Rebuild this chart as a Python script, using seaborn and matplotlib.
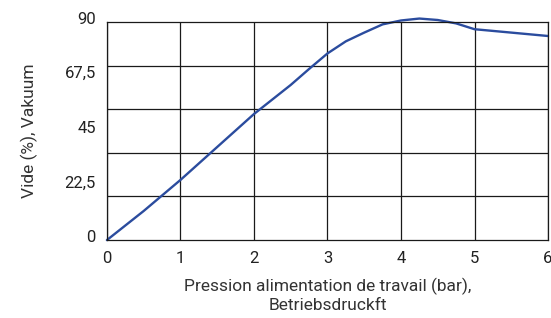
import numpy as np
import matplotlib
matplotlib.use("Agg")
import matplotlib.pyplot as plt
import matplotlib.transforms as mtransforms
import seaborn as sns
import pandas as pd

# valeurs
pression = [0, 0.5, 1, 1.5, 2, 2.5, 2.75, 3, 3.25, 3.5, 3.75, 4, 4.25, 4.5, 4.75, 5, 5.5, 6]
vide = [0, 12, 24.8, 38.4, 52, 64, 70.6, 77, 82, 85.6, 89.0, 90.6, 91.4, 90.8, 89.4, 87, 85.6, 84.2]

x_ticks = [0, 1, 2, 3, 4, 5, 6]
y_ticks = [0, 22.5, 45, 67.5, 90]
y_labels = ["0", "22,5", "45", "67,5", "90"]
y_grid = [0, 18, 36, 54, 72, 90]

df = pd.DataFrame({"pression": pression, "vide": vide})

sns.set_style("white")
plt.rcParams['font.family'] = ['Roboto', 'DejaVu Sans']

fig = plt.figure(figsize=(5.51, 3.18), dpi=100)
ax = fig.add_axes([0.194, 0.245, 0.8006, 0.686])

sns.lineplot(data=df, x="pression", y="vide", ax=ax, color="#2b4c9e", linewidth=1.7, clip_on=False)

ax.set_xlim(0, 6)
ax.set_ylim(0, 90)
ax.set_xticks(x_ticks)
ax.set_xticklabels([str(t) for t in x_ticks], fontsize=12, color="#222222")
ax.set_yticks(y_ticks)
ax.set_yticklabels(y_labels, fontsize=12, color="#222222")
ax.set_yticks(y_grid, minor=True)
ax.tick_params(axis="both", which="both", length=0)
ax.tick_params(axis="y", pad=8)
ax.tick_params(axis="x", pad=8)

# labels de l'axe y un peu au-dessus de leur position
shift = mtransforms.ScaledTranslation(0, 3 / 72, fig.dpi_scale_trans)
for lab in ax.get_yticklabels():
    lab.set_transform(lab.get_transform() + shift)

ax.grid(False)
ax.grid(True, axis="x", which="major", color="#1a1a1a", linewidth=0.9)
ax.grid(True, axis="y", which="minor", color="#1a1a1a", linewidth=0.9)
for s in ax.spines.values():
    s.set_color("#1a1a1a")
    s.set_linewidth(0.9)

ax.set_xlabel("Pression alimentation de travail (bar),\nBetriebsdruckft", fontsize=12.5,
              color="#333333", labelpad=8, linespacing=1.3)
ax.set_ylabel("Vide (%), Vakuum", fontsize=12.5, color="#333333", labelpad=19)

fig.savefig("out.png", dpi=100)
